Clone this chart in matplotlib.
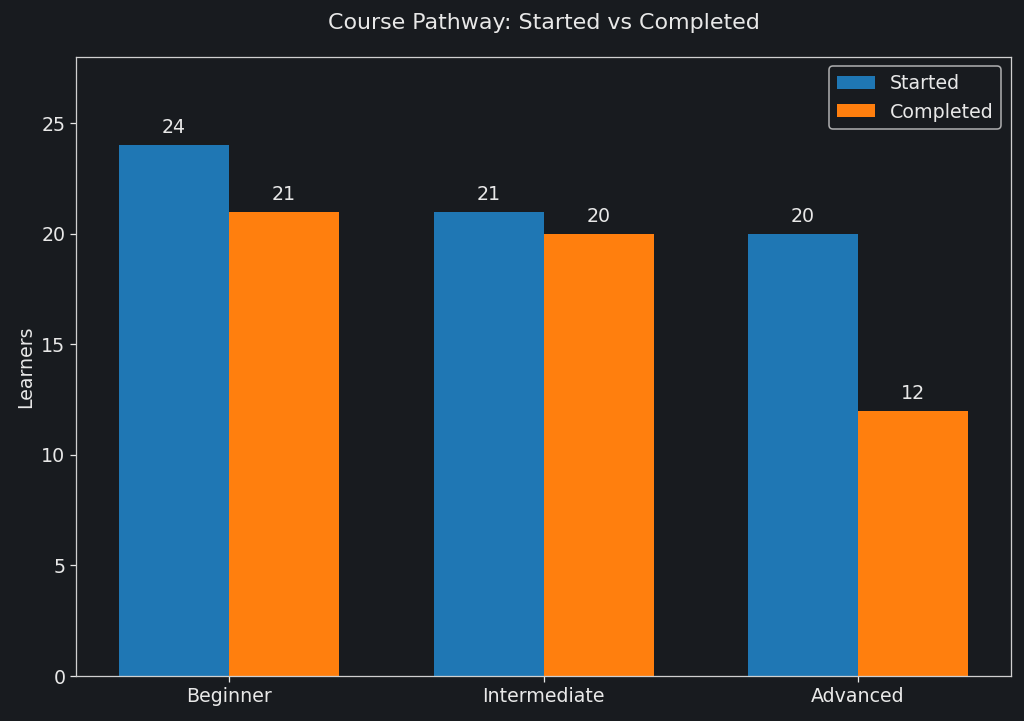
import numpy as np
import matplotlib
matplotlib.use('Agg')
import matplotlib.pyplot as plt

plt.rcParams['font.family'] = ['DejaVu Sans']

levels = ['Beginner', 'Intermediate', 'Advanced']
started = [24, 21, 20]
completed = [21, 20, 12]

bg = '#181b1f'
fg = '#e8e8e8'

fig, ax = plt.subplots(figsize=(9, 6.337), dpi=1024 / 9)
fig.patch.set_facecolor(bg)
ax.set_facecolor(bg)

x = np.arange(len(levels))
w = 0.35
b1 = ax.bar(x - w / 2, started, w, color='#1f77b4', label='Started')
b2 = ax.bar(x + w / 2, completed, w, color='#ff7f0e', label='Completed')

for bars in (b1, b2):
    for bar in bars:
        h = bar.get_height()
        ax.annotate(f'{h}', (bar.get_x() + bar.get_width() / 2, h),
                    xytext=(0, 5), textcoords='offset points',
                    ha='center', va='bottom', color=fg, fontsize=12)

ax.set_xticks(x)
ax.set_xticklabels(levels)
ax.set_ylim(0, 28)
ax.set_ylabel('Learners', color=fg, fontsize=12)
ax.set_title('Course Pathway: Started vs Completed', color=fg, fontsize=14, pad=18)
ax.tick_params(colors=fg, labelsize=12)
for s in ax.spines.values():
    s.set_color('#d0d0d0')

leg = ax.legend(fontsize=12, facecolor=bg, edgecolor='#d0d0d0', labelcolor=fg)

plt.subplots_adjust(left=0.0747, right=0.987, top=0.921, bottom=0.0624)
plt.savefig('out.png', facecolor=bg)
